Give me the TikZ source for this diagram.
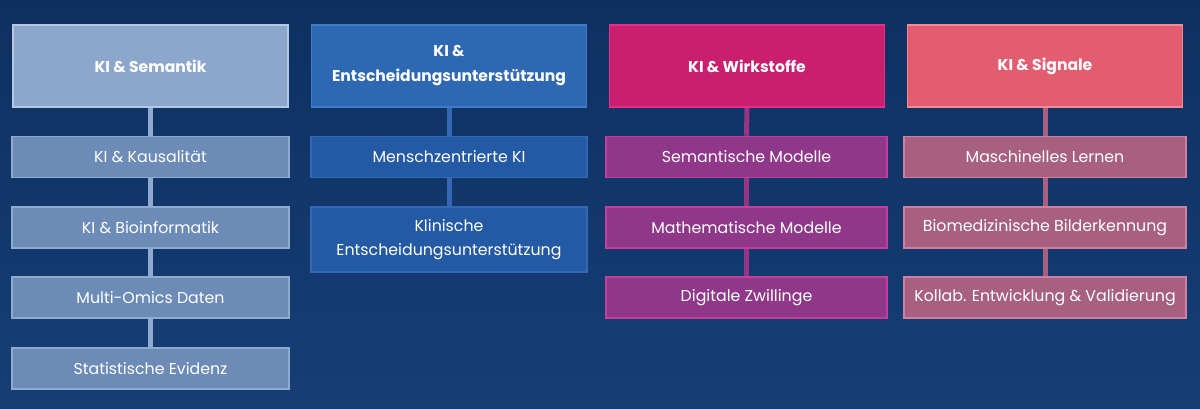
\documentclass[tikz,border=0pt]{standalone}
\usepackage{fontspec}
\setmainfont{Poppins}
\usepackage{tikz}
\usetikzlibrary{positioning}

\definecolor{bgtop}{HTML}{0E3061}\definecolor{bgbottom}{HTML}{153F75}
\definecolor{semhead}{HTML}{8DA6CB}\definecolor{semheadline}{HTML}{B5C8E3}
\definecolor{semsub}{HTML}{6C8BB6}\definecolor{semsubline}{HTML}{8FA9CF}
\definecolor{enthead}{HTML}{2F68B2}\definecolor{entheadline}{HTML}{3F7BC8}
\definecolor{entsub}{HTML}{2459A4}\definecolor{entsubline}{HTML}{3468B5}
\definecolor{wirhead}{HTML}{C91F6F}\definecolor{wirheadline}{HTML}{EC2A8A}
\definecolor{wirsub}{HTML}{8F3889}\definecolor{wirsubline}{HTML}{C43F9C}
\definecolor{sighead}{HTML}{E15D6F}\definecolor{sigheadline}{HTML}{F28A98}
\definecolor{sigsub}{HTML}{A7607F}\definecolor{sigsubline}{HTML}{D07F9E}

\tikzset{
  headbox/.style={draw, line width=1.5pt, inner sep=0pt, minimum width=275pt, minimum height=82pt,
    align=center, text=white, font=\fontsize{15.6}{25}\selectfont\bfseries},
  subbox/.style={draw, line width=1.5pt, inner sep=0pt, minimum height=41pt,
    align=center, text=white, font=\fontsize{15.8}{24.5}\selectfont},
  link/.style={line width=5pt}
}

\begin{document}
\begin{tikzpicture}[x=1pt,y=-1pt]
\shade[top color=bgtop, bottom color=bgbottom] (0,0) rectangle (1200,409);
\useasboundingbox (0,0) rectangle (1200,409);

% KI & Semantik
\node[headbox, fill=semhead, draw=semheadline] (sem) at (150.5,66) {KI \& Semantik};
\node[subbox, minimum width=277pt, fill=semsub, draw=semsubline] (kaus) at (150.5,157) {KI \& Kausalität};
\node[subbox, minimum width=277pt, fill=semsub, draw=semsubline] (bioinf) at (150.5,227.5) {KI \& Bioinformatik};
\node[subbox, minimum width=277pt, fill=semsub, draw=semsubline] (omics) at (150.5,297.5) {Multi-Omics Daten};
\node[subbox, minimum width=277pt, fill=semsub, draw=semsubline] (evid) at (150.5,368.5) {Statistische Evidenz};
\draw[link, semsubline] (sem.south) -- (kaus.north);
\draw[link, semsubline] (kaus.south) -- (bioinf.north);
\draw[link, semsubline] (bioinf.south) -- (omics.north);
\draw[link, semsubline] (omics.south) -- (evid.north);

% KI & Entscheidungsunterstuetzung
\node[headbox, fill=enthead, draw=entheadline] (ent) at (449,66) {KI \&\\Entscheidungsunterstützung};
\node[subbox, minimum width=276pt, fill=entsub, draw=entsubline] (mensch) at (449,157) {Menschzentrierte KI};
\node[subbox, minimum width=276pt, minimum height=65pt, fill=entsub, draw=entsubline] (klin) at (449,239.5) {Klinische\\Entscheidungsunterstützung};
\draw[link, entsubline] (ent.south) -- (mensch.north);
\draw[link, entsubline] (mensch.south) -- (klin.north);

% KI & Wirkstoffe
\node[headbox, fill=wirhead, draw=wirheadline] (wirk) at (747,66) {KI \& Wirkstoffe};
\node[subbox, minimum width=281pt, fill=wirsub, draw=wirsubline] (semmod) at (746.5,157) {Semantische Modelle};
\node[subbox, minimum width=281pt, fill=wirsub, draw=wirsubline] (mathmod) at (746.5,227.5) {Mathematische Modelle};
\node[subbox, minimum width=281pt, fill=wirsub, draw=wirsubline] (zwill) at (746.5,297.5) {Digitale Zwillinge};
\draw[link, wirsub!85!wirhead] (wirk.south) -- (semmod.north);
\draw[link, wirsub!85!wirhead] (semmod.south) -- (mathmod.north);
\draw[link, wirsub!85!wirhead] (mathmod.south) -- (zwill.north);

% KI & Signale
\node[headbox, fill=sighead, draw=sigheadline] (sig) at (1045,66) {KI \& Signale};
\node[subbox, minimum width=282pt, fill=sigsub, draw=sigsubline] (lernen) at (1045,157) {Maschinelles Lernen};
\node[subbox, minimum width=282pt, fill=sigsub, draw=sigsubline] (bild) at (1045,227.5) {Biomedizinische Bilderkennung};
\node[subbox, minimum width=282pt, fill=sigsub, draw=sigsubline] (kollab) at (1045,297.5) {Kollab. Entwicklung \& Validierung};
\draw[link, sigsub] (sig.south) -- (lernen.north);
\draw[link, sigsub] (lernen.south) -- (bild.north);
\draw[link, sigsub] (bild.south) -- (kollab.north);
\end{tikzpicture}
\end{document}
